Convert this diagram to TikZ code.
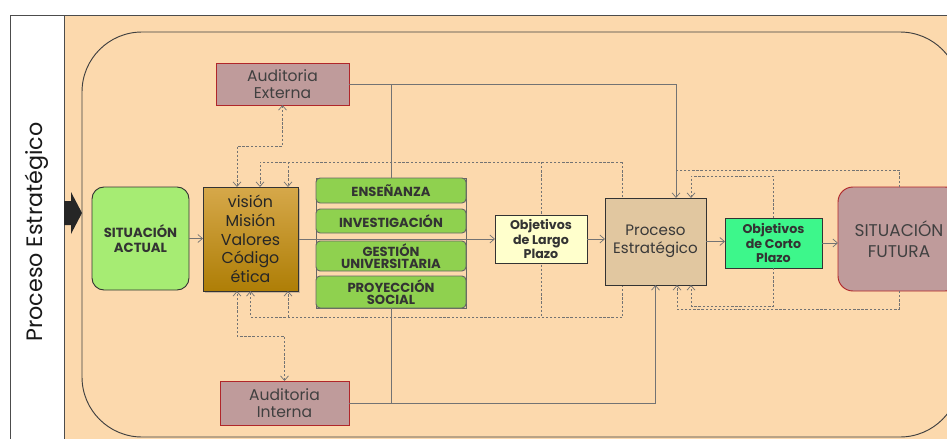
\documentclass[tikz,border=0pt]{standalone}
\usepackage{fontspec}
\setmainfont{Poppins}
\usepackage{tikz}
\usetikzlibrary{calc}
\usetikzlibrary{arrows.meta}
\usetikzlibrary{shadows}

\definecolor{peach}{HTML}{FCD9AD}
\definecolor{actualgreen}{HTML}{A6EC73}
\definecolor{goldtop}{HTML}{D6A84A}
\definecolor{goldbot}{HTML}{AE7E06}
\definecolor{auditrose}{HTML}{BF9B9B}
\definecolor{auditred}{HTML}{B0262A}
\definecolor{progreen}{HTML}{8FD14F}
\definecolor{largoyellow}{HTML}{FFFFCC}
\definecolor{procesotan}{HTML}{E1C7A0}
\definecolor{cortogreen}{HTML}{3DF78B}

\pgfdeclarelayer{bg}
\pgfdeclarelayer{behind}
\pgfsetlayers{bg,behind,main}

\tikzset{
  box/.style={draw=black!80, line width=0.8pt, inner sep=0pt, outer sep=0pt, align=center},
  prog/.style={box, draw=black!60, fill=progreen, rounded corners=1.2mm, minimum width=45mm,
    font=\bfseries\fontsize{11.2}{10.5}\selectfont, text=black!80},
  audit/.style={box, draw=auditred, fill=auditrose, minimum width=39.9mm,
    font=\fontsize{13.3}{14.5}\selectfont, text=black!75},
  flow/.style={draw=black!55, line width=0.6pt},
  fb/.style={draw=black!55, line width=0.6pt, dash pattern=on 2pt off 1.5pt},
  >={Straight Barb[length=1.4mm,width=2.4mm]},
}

\begin{document}
\begin{tikzpicture}[x=0.3mm,y=-0.3mm]

\useasboundingbox (0,0) rectangle (947,439);
\clip (0,0) rectangle (947,439);

% frame and background
\begin{pgfonlayer}{bg}
\fill[white] (0,0) rectangle (947,439);
\fill[peach] (64,15) rectangle (980,460);
\draw[black!70, line width=0.8pt] (10,460) -- (10,15) -- (980,15);
\draw[black!70, line width=0.8pt] (64,15) -- (64,460);
\draw[black!75, line width=0.8pt, rounded corners=18mm] (82,32) rectangle (960,437);
\end{pgfonlayer}

\node[rotate=90, font=\fontsize{19}{22}\selectfont, text=black!90] (titulo) at (37,232) {Proceso Estratégico};
\fill[black!85] (64,201) -- (71,201) -- (71,192) -- (82,213) -- (71,234) -- (71,225) -- (64,225) -- cycle;

% boxes
\node[box, fill=actualgreen, rounded corners=3.6mm, minimum width=29.1mm, minimum height=30.9mm,
  font=\bfseries\fontsize{11.3}{12.5}\selectfont, text=black!80] (actual) at (140.5,238.5) {SITUACIÓN\\ACTUAL};
\node[box, top color=goldtop, bottom color=goldbot, drop shadow={shadow xshift=0.5mm, shadow yshift=-0.5mm, opacity=0.4},
  minimum width=28.5mm, minimum height=31.2mm, font=\fontsize{13.5}{16}\selectfont, text=black!85] (vision) at (250.5,239)
  {visión\\Misión\\Valores\\Código\\ética};

\node[audit, minimum height=12.6mm] (externa) at (282.5,84) {Auditoria\\Externa};
\node[audit, minimum width=38.7mm, minimum height=13.2mm] (interna) at (284.5,403) {Auditoria\\Interna};

\node[prog, minimum height=7.5mm] (ensenanza) at (391,190.5) {ENSEÑANZA};
\node[prog, minimum height=7.2mm] (investigacion) at (391,221) {INVESTIGACIÓN};
\node[prog, minimum height=9mm] (gestion) at (391,256) {GESTIÓN\\UNIVERSITARIA};
\node[prog, minimum height=9.6mm] (proyeccion) at (391,292) {PROYECCIÓN\\SOCIAL};

\node[box, fill=largoyellow, minimum width=27.6mm, minimum height=14.4mm,
  font=\bfseries\fontsize{10.8}{12.6}\selectfont, text=black!80] (largo) at (541,239) {Objetivos\\de Largo\\Plazo};
\node[box, fill=procesotan, minimum width=30.3mm, minimum height=26.1mm,
  font=\fontsize{12.9}{15.5}\selectfont, text=black!78] (proceso) at (655.5,241.5) {Proceso\\Estratégico};
\node[box, fill=cortogreen, minimum width=29.1mm, minimum height=15mm,
  font=\bfseries\fontsize{10.8}{12.6}\selectfont, text=black!80] (corto) at (773.5,243) {Objetivos\\de Corto\\Plazo};
\node[box, draw=auditred, fill=auditrose, rounded corners=4.5mm, minimum width=36.6mm, minimum height=31.2mm,
  font=\fontsize{14.5}{18}\selectfont, text=black!75] (futura) at (899,239) {SITUACIÓN\\FUTURA};

% lines behind the boxes
\begin{pgfonlayer}{behind}
\draw[black!60, line width=0.6pt, fill=peach] (ensenanza.north west) rectangle (proyeccion.south east);
\draw[flow,->] (vision.east) -- (vision.east -| largo.west);
\coordinate (fbtr) at (622,162);
\coordinate (fbbr) at (622,317);
\draw[fb] (fbtr) -- (fbbr);
\draw[fb] (largo.north |- fbtr) -- (largo.south |- fbbr);
\end{pgfonlayer}

% main flow
\draw[flow,->] (actual.east) -- (actual.east -| vision.west);
\draw[flow,->] (largo.east) -- (largo.east -| proceso.west);
\draw[flow,->] (proceso.east) -- (proceso.east -| corto.west);
\draw[flow,->] (corto.east) -- (corto.east -| futura.west);

% audits
\draw[flow] (externa.east) -| (ensenanza.north);
\draw[flow,->] (externa.east) -| ($(proceso.north)+(20.5,0)$);
\draw[flow] (interna.east) -| (proyeccion.south);
\draw[flow,->] (interna.east) -| (proceso.south);
\draw[fb,<->] (externa.south) -- ++(0,41) -| ($(vision.north)+(-13.5,0)$);
\draw[fb,<->] (interna.north) -- ++(0,-45) -| ($(vision.south)+(-13.5,0)$);

% feedback
\draw[fb,->] (fbtr) -| ($(vision.north)+(9.5,0)$);
\draw[fb,->] ($(vision.north)+(37.5,-25)$) -- ($(vision.north)+(37.5,0)$);
\draw[fb,->] (fbbr) -| (vision.south);
\draw[fb,->] ($(vision.south)+(37.5,26)$) -- ($(vision.south)+(37.5,0)$);
\draw[fb] (futura.north) |- ($(proceso.north)+(20.5,-28)$);
\draw[fb,->] (corto.north) -- ++(0,-42) -| ($(proceso.north)+(35.5,0)$);
\draw[fb,->] (futura.south) -- ++(0,18) -| ($(proceso.south)+(21.5,0)$);
\draw[fb,->] (corto.south) -- ++(0,38) -| ($(proceso.south)+(35.5,0)$);

\end{tikzpicture}
\end{document}
